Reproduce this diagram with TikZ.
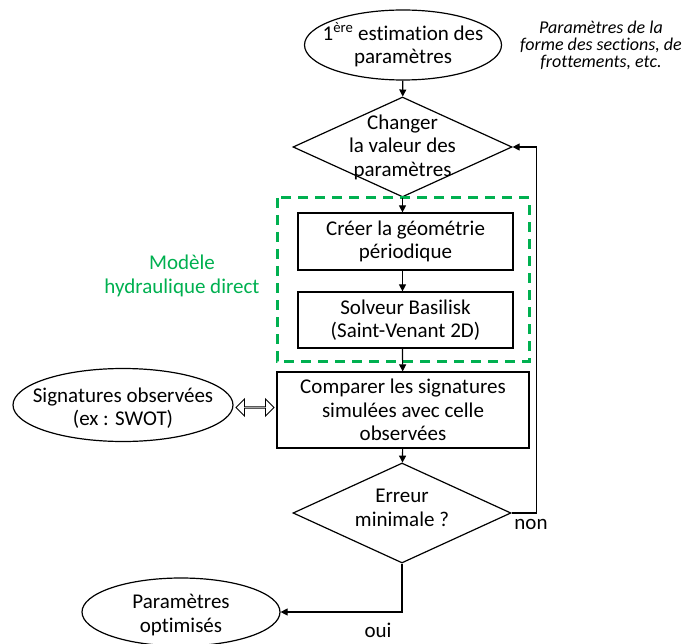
\documentclass[tikz,border=0pt]{standalone}
\usepackage{fontspec}
\setmainfont{Carlito}[Ligatures=NoCommon]
\usetikzlibrary{shapes.geometric,shapes.arrows,arrows.meta,calc}
\definecolor{vertmodele}{RGB}{0,176,80}
\begin{document}
\begin{tikzpicture}[x=1pt, y=1pt, line width=1.2pt,
    texte/.style={align=center, font=\fontsize{21}{23.5}\selectfont},
    boite/.style={texte, draw, rectangle, inner sep=0pt},
    bulle/.style={draw, ellipse, inner sep=0pt},
    losange/.style={draw, diamond, inner sep=0pt},
    fleche/.style={-{Triangle[length=7pt, width=7pt]}},
    modele/.style={draw=vertmodele, line width=3pt, dash pattern=on 10pt off 7pt}]
    \useasboundingbox (0,0) rectangle (685,-644);

    % Début et boucle sur les paramètres
    \node[bulle, minimum width=197, minimum height=70, label={[texte]center:{1\textsuperscript{ère} estimation des\\paramètres}}] (debut) at (403,-45) {};
    \node[losange, minimum width=219, minimum height=100, label={[texte]center:{Changer\\la valeur des\\paramètres}}] (chg) at (402.5,-147) {};
    \node[align=center, font=\fontsize{18}{17}\selectfont\itshape] (note) at (601,-45) {Paramètres de la\\forme des sections, de\\frottements, etc.};

    % Modèle hydraulique direct
    \draw[modele] (277,-198) rectangle (529,-361);
    \node[texte, text=vertmodele] (titremodele) at (182,-276) {Modèle\\hydraulique direct};
    \node[boite, minimum width=215, minimum height=57] (creer) at (405.5,-241.5) {Créer la géométrie\\périodique};
    \node[boite, minimum width=215, minimum height=56] (solv) at (405.5,-320) {Solveur Basilisk\\(Saint-Venant 2D)};

    % Comparaison avec les observations
    \node[boite, minimum width=252, minimum height=76] (cmp) at (403,-410) {Comparer les signatures\\simulées avec celle\\observées};
    \node[bulle, minimum width=220, minimum height=73, label={[texte, yshift=-3pt]center:{Signatures observées\\(ex : SWOT)}}] (sig) at (123,-405) {};
    \node[double arrow, draw, line width=0.9pt, inner sep=0pt, minimum height=38, minimum width=17,
        double arrow head extend=5, double arrow tip angle=90] (equiv) at ($(sig.east)!0.5!(cmp.west)$) {};

    % Test sur l'erreur
    \node[losange, minimum width=218, minimum height=100, label={[texte, yshift=5pt]center:{Erreur\\minimale ?}}] (err) at (402,-513) {};
    \node[bulle, minimum width=198, minimum height=68, label={[texte, yshift=-3pt]center:{Paramètres\\optimisés}}] (fin) at (181,-612) {};
    \node[texte] (non) at (531,-524) {non};
    \node[texte] (oui) at (378,-630) {oui};

    % Flèches
    \draw[fleche] (debut) -- (chg);
    \draw[fleche] (chg) -- (chg |- creer.north);
    \draw[fleche] (chg |- creer.south) -- (chg |- solv.north);
    \draw[fleche] (chg |- solv.south) -- (cmp);
    \draw[fleche] (cmp) -- (err);
    \draw[fleche] (err.east) -- ++(25,0) |- (chg.east);
    \draw[fleche] (err.south) |- (fin.east);
  \end{tikzpicture}
\end{document}
